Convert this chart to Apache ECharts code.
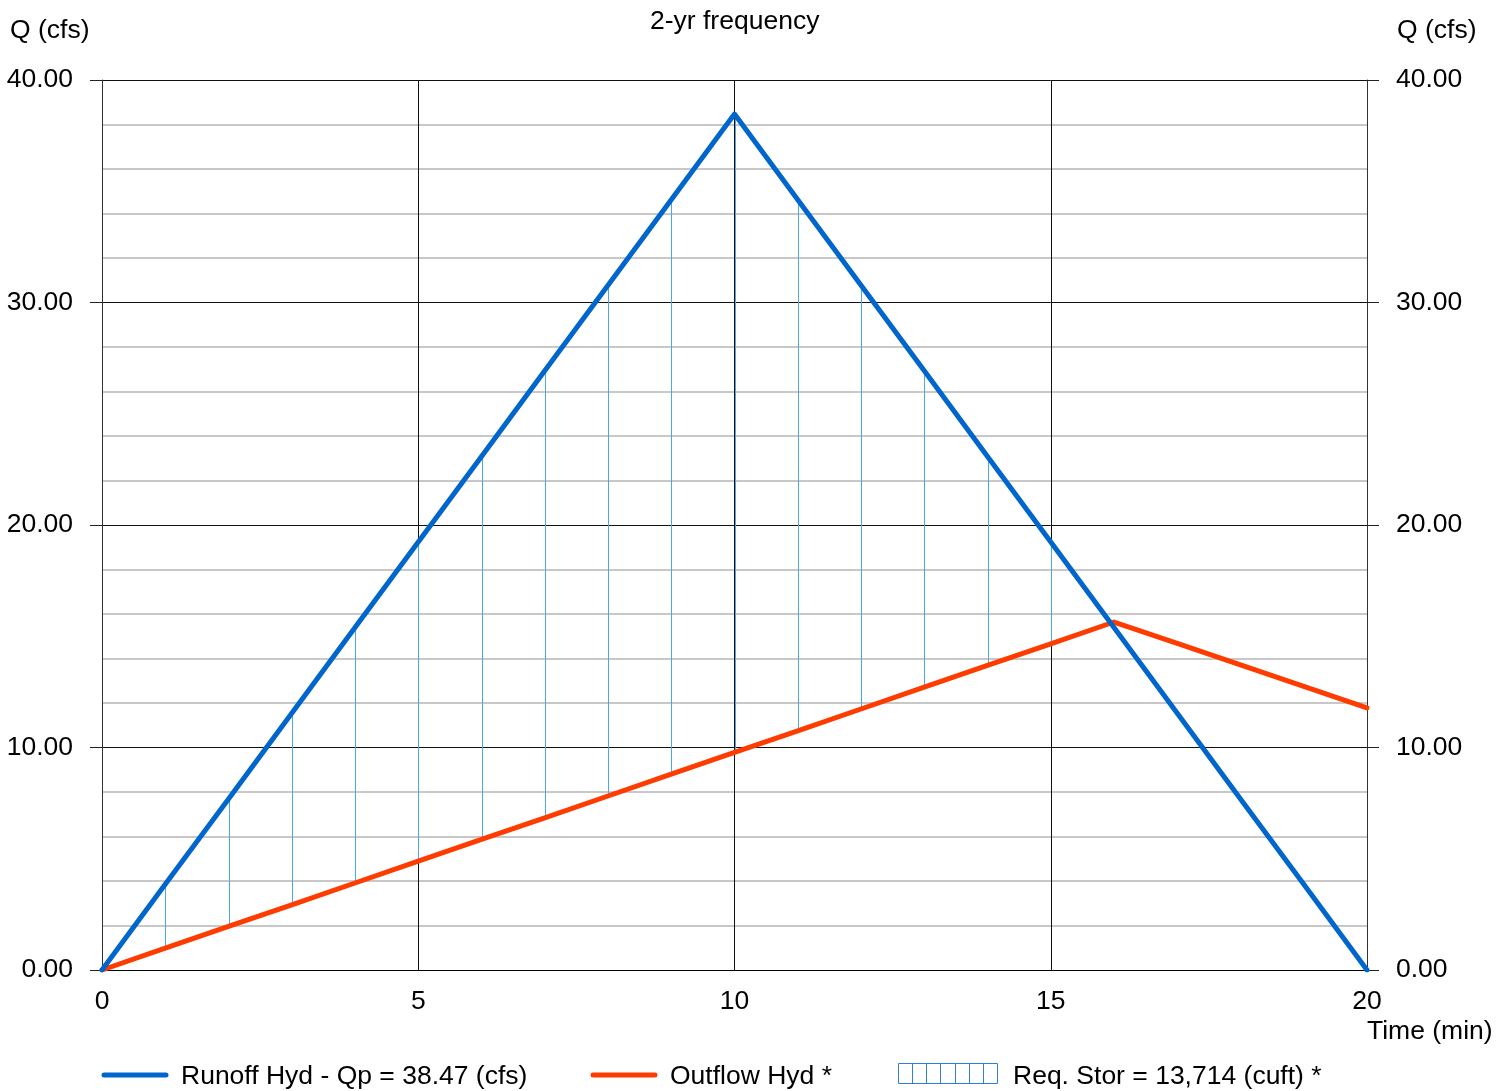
<!DOCTYPE html>
<html>
<head>
<meta charset="utf-8">
<script src="https://cdn.jsdelivr.net/npm/echarts@6/dist/echarts.min.js"></script>
<style>
html,body{margin:0;padding:0;background:#fff;}
#chart{width:1512px;height:1091px;}
</style>
</head>
<body>
<div id="chart"></div>
<script>
// ---- data ----
const times = [0,1,2,3,4,5,6,7,8,9,10,11,12,13,14,15,16,17,18,19,20];
const runoff = [0,3.85,7.69,11.54,15.39,19.24,23.08,26.93,30.78,34.62,38.47,34.62,30.78,26.93,23.08,19.24,15.39,11.54,7.69,3.85,0];
const outflow = [0,0.98,1.96,2.93,3.91,4.89,5.87,6.84,7.82,8.80,9.78,10.75,11.73,12.71,13.69,14.66,15.64,14.68,13.71,12.75,11.78];
const storageTimes = [1,2,3,4,5,6,7,8,9,10,11,12,13,14,15];
const yTicks = [0,10,20,30,40];
const xTicks = [0,5,10,15,20];
const titleText = '2-yr frequency';
const legendRunoff = 'Runoff Hyd - Qp = 38.47 (cfs)';
const legendOutflow = 'Outflow Hyd *';
const legendStorage = 'Req. Stor = 13,714 (cuft) *';

const FONT = '"Liberation Sans", Arial, sans-serif';
const FS = 26.5;
const runoffData = times.map((t,i)=>[t, runoff[i]]);
const outflowData = times.map((t,i)=>[t, outflow[i]]);
const storageData = storageTimes.map(t=>{const i = times.indexOf(t); return [t, outflow[i], runoff[i]];});

const chart = echarts.init(document.getElementById('chart'), null, {renderer:'canvas'});

function yAxisCfg(pos){
  return {
    type:'value', position:pos, min:0, max:40, interval:10,
    axisLine:{show:true, lineStyle:{color:'#333', width:1}},
    axisTick:{show:true, length:12, lineStyle:{color:'#222', width:1}},
    axisLabel:{show:true, margin:29, color:'#000', fontSize:FS, fontFamily:FONT,
      padding:[8,0,0,0],
      formatter:v=>v.toFixed(2)},
    splitLine:{show: pos==='left', lineStyle:{color:'#111', width:1}},
    minorTick:{show:false, splitNumber:5},
    minorSplitLine:{show: pos==='left', lineStyle:{color:'#c8c8c8', width:2}}
  };
}

const tStyle = {fontSize:FS, fontWeight:'normal', color:'#000', fontFamily:FONT};
const option = {
  animation:false,
  backgroundColor:'#fff',
  title:[
    {text:titleText, left:650, top:8, padding:0, textStyle:tStyle},
    {text:'Q (cfs)', left:10, top:17, padding:0, textStyle:tStyle},
    {text:'Q (cfs)', left:1397, top:17, padding:0, textStyle:tStyle},
    {text:'Time (min)', left:1367, top:1018, padding:0, textStyle:tStyle}
  ],
  grid:{left:102, right:145, top:80, bottom:121, containLabel:false},
  xAxis:{
    type:'value', min:0, max:20, interval:5,
    axisLine:{show:true, lineStyle:{color:'#000', width:1}},
    axisTick:{show:false},
    axisLabel:{show:true, margin:18, color:'#000', fontSize:FS, fontFamily:FONT},
    splitLine:{show:true, lineStyle:{color:'#111', width:1}}
  },
  yAxis:[yAxisCfg('left'), yAxisCfg('right')],
  series:[
    {
      name:legendStorage, type:'custom', z:2,
      data:storageData,
      encode:{x:0, y:[1,2]},
      renderItem:function(params, api){
        const t = api.value(0), lo = api.value(1), hi = api.value(2);
        const p1 = api.coord([t, lo]);
        const p2 = api.coord([t, hi]);
        const x = Math.round(p1[0]) + 0.5;
        return {type:'line', shape:{x1:x, y1:p1[1], x2:x, y2:p2[1]},
          style:{stroke:'#4ea6ea', lineWidth:1}};
      }
    },
    {
      name:legendOutflow, type:'line', data:outflowData, z:3,
      showSymbol:false, symbol:'none',
      lineStyle:{color:'#ff3c00', width:5, cap:'round', join:'round'}
    },
    {
      name:legendRunoff, type:'line', data:runoffData, z:4,
      showSymbol:false, symbol:'none',
      lineStyle:{color:'#0066cc', width:5, cap:'round', join:'round'}
    }
  ],
  graphic:[
    {type:'line', shape:{x1:104, y1:1075, x2:166, y2:1075},
      style:{stroke:'#0066cc', lineWidth:5, lineCap:'round'}},
    {type:'text', left:181, top:1063,
      style:{text:legendRunoff, fontSize:FS, fontFamily:FONT, fill:'#000'}},
    {type:'line', shape:{x1:593, y1:1075, x2:655, y2:1075},
      style:{stroke:'#ff3c00', lineWidth:5, lineCap:'round'}},
    {type:'text', left:670, top:1063,
      style:{text:legendOutflow, fontSize:FS, fontFamily:FONT, fill:'#000'}},
    {type:'group', children:[
      {type:'rect', shape:{x:898.5, y:1063.5, width:99, height:20},
        style:{fill:'none', stroke:'#2f7fd6', lineWidth:1}},
      ...[1,2,3,4,5,6].map(k=>({type:'line',
        shape:{x1:898.5+Math.round(k*99/7), y1:1063.5, x2:898.5+Math.round(k*99/7), y2:1083.5},
        style:{stroke:'#2f7fd6', lineWidth:1}}))
    ]},
    {type:'text', left:1013, top:1063,
      style:{text:legendStorage, fontSize:FS, fontFamily:FONT, fill:'#000'}}
  ]
};
chart.setOption(option);
</script>
</body>
</html>
